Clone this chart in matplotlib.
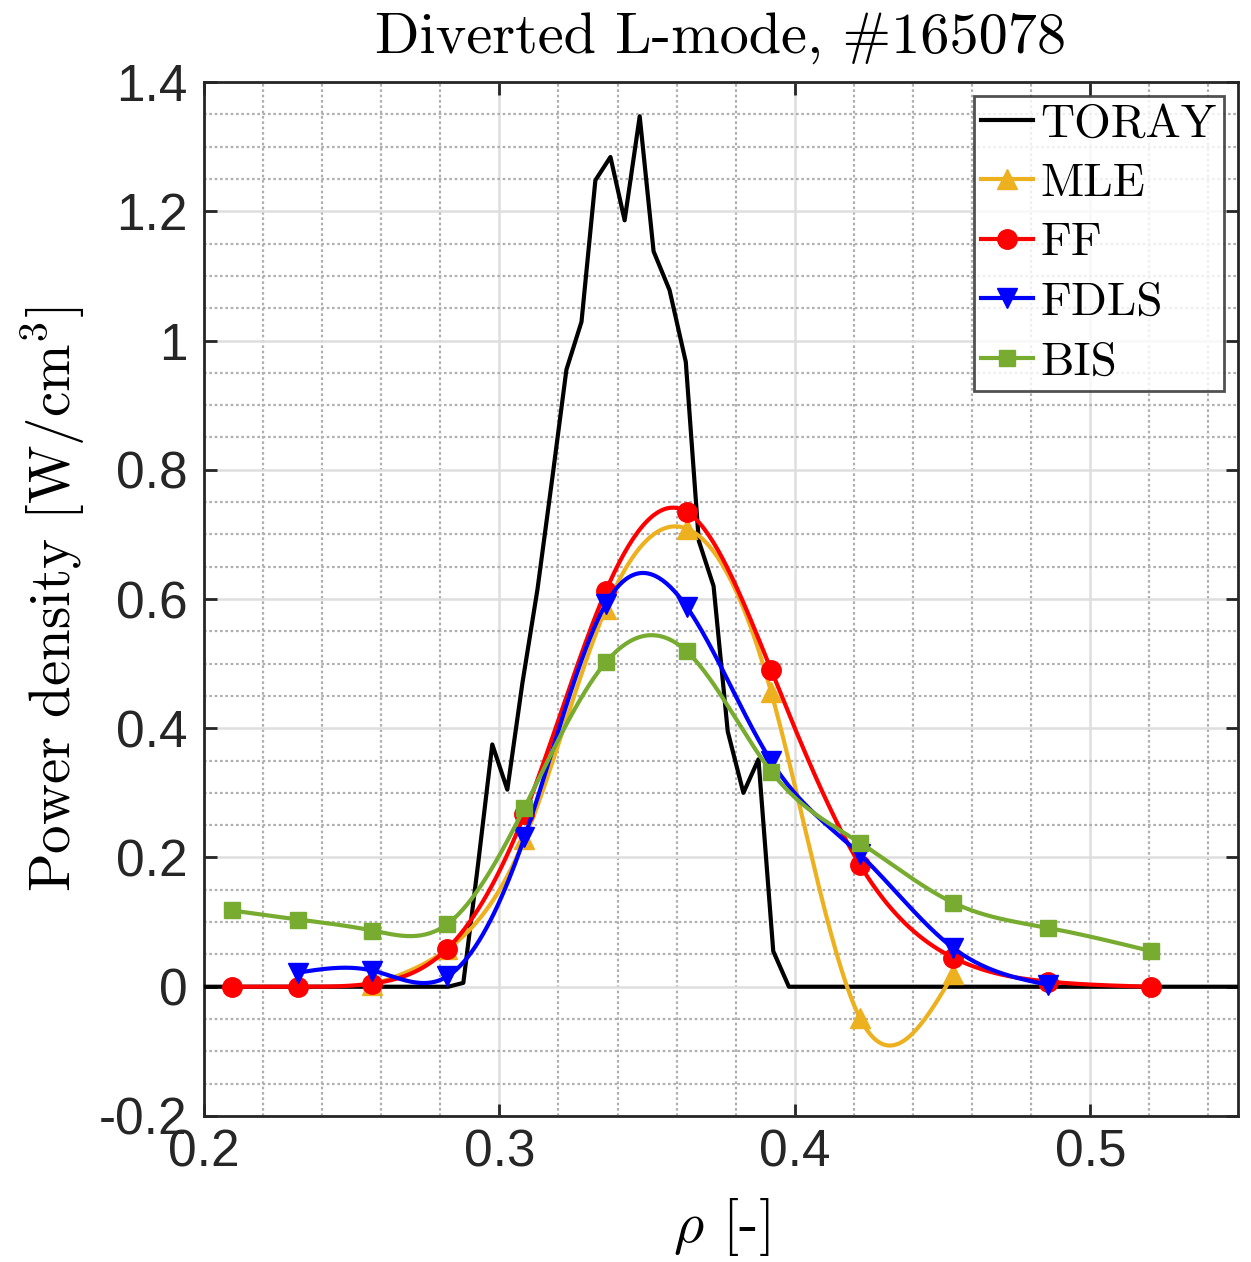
import numpy as np
import matplotlib as mpl
mpl.use('Agg')
import matplotlib.pyplot as plt
from matplotlib.lines import Line2D
from matplotlib.ticker import MultipleLocator

plt.rcParams['mathtext.fontset'] = 'cm'
plt.rcParams['axes.unicode_minus'] = False

# TORAY reference profile (piecewise linear)
TORAY_RHO = [0.200, 0.2827, 0.2878, 0.2928, 0.2976, 0.3027, 0.3078, 0.3129, 0.3180,
             0.3227, 0.3278, 0.3325, 0.3376, 0.3424, 0.3475, 0.3522, 0.3576, 0.3631,
             0.3675, 0.3725, 0.3773, 0.3826, 0.3877, 0.3927, 0.3980, 0.550]
TORAY_P = [0.0, 0.0, 0.006, 0.19, 0.375, 0.305, 0.47, 0.615, 0.79,
           0.955, 1.029, 1.248, 1.284, 1.186, 1.347, 1.138, 1.078, 0.967,
           0.69, 0.62, 0.395, 0.300, 0.352, 0.055, 0.0, 0.0]

# reconstructed profiles on the channel grid
RHO = [0.2095, 0.2320, 0.2570, 0.2824, 0.3085, 0.3360, 0.3634, 0.3920, 0.4220,
       0.4536, 0.4858, 0.5207]

MLE_RHO = RHO[2:10]
MLE_P = [0.003, 0.058, 0.228, 0.585, 0.709, 0.456, -0.048, 0.019]

FF_RHO = RHO
FF_P = [0.0, 0.0, 0.005, 0.059, 0.267, 0.612, 0.735, 0.490, 0.189, 0.045, 0.008, 0.0]

FDLS_RHO = RHO[1:11]
FDLS_P = [0.022, 0.025, 0.016, 0.231, 0.592, 0.588, 0.349, 0.205, 0.060, 0.003]

BIS_RHO = RHO
BIS_P = [0.118, 0.104, 0.087, 0.097, 0.277, 0.502, 0.519, 0.333, 0.223, 0.130, 0.091, 0.055]

XTICKS = [0.2, 0.3, 0.4, 0.5]
YTICKS = [-0.2, 0, 0.2, 0.4, 0.6, 0.8, 1.0, 1.2, 1.4]


def spline_curve(x, y, n=400):
    """Natural cubic spline through the points."""
    x = np.asarray(x, float)
    y = np.asarray(y, float)
    m = len(x)
    h = np.diff(x)
    A = np.zeros((m, m))
    b = np.zeros(m)
    A[0, 0] = 1.0
    A[-1, -1] = 1.0
    for i in range(1, m - 1):
        A[i, i - 1] = h[i - 1]
        A[i, i] = 2 * (h[i - 1] + h[i])
        A[i, i + 1] = h[i]
        b[i] = 6 * ((y[i + 1] - y[i]) / h[i] - (y[i] - y[i - 1]) / h[i - 1])
    M = np.linalg.solve(A, b)
    xs = np.linspace(x[0], x[-1], n)
    k = np.clip(np.searchsorted(x, xs) - 1, 0, m - 2)
    t0 = x[k + 1] - xs
    t1 = xs - x[k]
    hk = h[k]
    ys = ((M[k] * t0**3 + M[k + 1] * t1**3) / (6 * hk)
          + (y[k] / hk - M[k] * hk / 6) * t0
          + (y[k + 1] / hk - M[k + 1] * hk / 6) * t1)
    return xs, ys


SERIES = [
    ('MLE', MLE_RHO, MLE_P, '#EDB120', '^', 15),
    ('FF', FF_RHO, FF_P, '#FF0000', 'o', 14),
    ('FDLS', FDLS_RHO, FDLS_P, '#0000FF', 'v', 15),
    ('BIS', BIS_RHO, BIS_P, '#77AC30', 's', 12),
]

fig = plt.figure(figsize=(12.51, 12.62), dpi=100)
ax = fig.add_axes([0.163, 0.1157, 0.8266, 0.8193])

LW = 3.0
ax.plot(TORAY_RHO, TORAY_P, color='k', lw=LW, zorder=3)
handles = [Line2D([], [], color='k', lw=LW)]
labels = ['TORAY']

for i, (name, xr, yp, col, mk, ms) in enumerate(SERIES):
    xs, ys = spline_curve(xr, yp)
    z = 4 + i
    ax.plot(xs, ys, color=col, lw=LW, zorder=z)
    ax.plot(xr, yp, ls='none', marker=mk, ms=ms, color=col, mec=col, zorder=z)
    handles.append(Line2D([], [], color=col, lw=LW, marker=mk, ms=ms, mec=col))
    labels.append(name)

ax.set_xlim(0.2, 0.55)
ax.set_ylim(-0.2, 1.4)
ax.set_xticks(XTICKS)
ax.set_yticks(YTICKS)
ax.set_xticklabels([f'{v:g}' for v in XTICKS], family='Liberation Sans', fontsize=37)
ax.set_yticklabels([f'{v:g}' for v in YTICKS], family='Liberation Sans', fontsize=37)
ax.xaxis.set_minor_locator(MultipleLocator(0.02))
ax.yaxis.set_minor_locator(MultipleLocator(0.05))

ax.grid(True, which='major', color='#dedede', lw=1.8, ls='-', zorder=0)
ax.grid(True, which='minor', color='#b0b0b0', lw=1.6, ls=(0, (1.2, 1.2)), zorder=0)
ax.set_axisbelow(True)

for sp in ax.spines.values():
    sp.set_color('#262626')
    sp.set_linewidth(2.0)
ax.tick_params(which='major', direction='in', length=9, width=2, color='#262626',
               top=True, right=True, labelcolor='#262626')
ax.tick_params(axis='x', which='major', pad=9)
ax.tick_params(axis='y', which='major', pad=12)
ax.tick_params(which='minor', length=0)

ax.set_title('Diverted L-mode, #165078', family='cmr10', fontsize=42, pad=21)
ax.set_xlabel(r'$\rho$ [-]', family='cmr10', fontsize=42, labelpad=13)
ax.set_ylabel(r'Power density [W/cm$^3$]', family='cmr10', fontsize=41, labelpad=8)

leg = ax.legend(handles, labels, loc='upper right', prop={'family': 'cmr10', 'size': 34},
                frameon=True, fancybox=False, borderpad=0.15, labelspacing=0.37,
                handlelength=1.1, handletextpad=0.15, borderaxespad=0.3)
leg.get_frame().set_edgecolor('#262626')
leg.get_frame().set_linewidth(2.0)
leg.set_zorder(10)

fig.savefig('out.png', dpi=100)
